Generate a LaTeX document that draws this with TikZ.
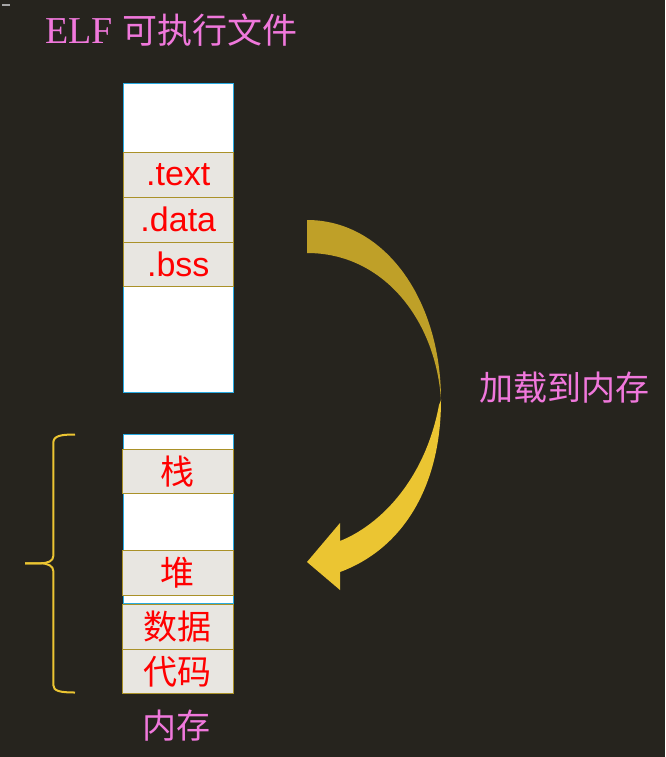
\documentclass[tikz,border=0pt]{standalone}
\usepackage{fontspec}
\setmainfont{Liberation Sans}
\newfontfamily\cjk{Noto Sans CJK SC}
\newfontfamily\ttlserif{Liberation Serif}
\definecolor{bg}{RGB}{38,36,30}
\definecolor{pinkt}{RGB}{240,120,220}
\definecolor{segfill}{RGB}{232,230,225}
\definecolor{segline}{RGB}{170,145,40}
\definecolor{memline}{RGB}{40,170,225}
\definecolor{ardark}{RGB}{191,160,40}
\definecolor{arlight}{RGB}{235,197,50}
\definecolor{redt}{RGB}{255,0,0}
\begin{document}
\begin{tikzpicture}[x=1pt,y=-1pt,
  mem/.style={draw=memline,fill=white,line width=1.2pt,minimum width=110pt,inner sep=0pt},
  seg/.style={draw=segline,fill=segfill,line width=1pt,text=redt,inner sep=0pt,minimum width=110pt},
  latseg/.style={seg,font=\fontsize{34}{38}\selectfont},
  cjkseg/.style={seg,font=\cjk\fontsize{34}{38}\selectfont},
  pinklabel/.style={text=pinkt,inner sep=0pt,font=\cjk\fontsize{34}{38}\selectfont}]
\useasboundingbox (0,0) rectangle (665,757);
\fill[bg] (0,0) rectangle (665,757);
\fill[gray!70] (2,4) rectangle (10,6);
% title
\node[text=pinkt,inner sep=0pt,anchor=base west] (title) at (45,44)
  {\fontsize{38}{42}\selectfont\ttlserif ELF \cjk\fontsize{35}{40}\selectfont 可执行文件};
% ELF file
\node[mem,minimum height=309pt] (elf) at (178.3,237.8) {};
\node[latseg,minimum height=45pt] (text) at (178.3,174.8) {\raisebox{-1.5pt}{.text}};
\node[latseg,minimum height=45pt] (data) at (178.3,219.8) {\raisebox{-1.5pt}{.data}};
\node[latseg,minimum height=44pt] (bss) at (178.3,264.3) {\raisebox{-1.5pt}{.bss}};
% memory
\node[mem,minimum height=169.2pt] (mem) at (178.3,518.9) {};
\node[cjkseg,minimum width=111pt,minimum height=44pt] (stack) at (177.8,471.3) {栈};
\node[cjkseg,minimum width=111pt,minimum height=45pt] (heap) at (177.8,572.8) {堆};
\node[cjkseg,minimum width=111pt,minimum height=45pt] (dseg) at (177.8,626.8) {数据};
\node[cjkseg,minimum width=111pt,minimum height=44pt] (cseg) at (177.8,671.3) {代码};
\node[pinklabel] (memlabel) at (176,726) {内存};
% brace
\draw[arlight,line width=2pt]
  (75,434.5) .. controls (60,434.5) and (53.3,436) .. (53.3,443) -- (53.3,556)
  .. controls (53.3,561) and (48,563.3) .. (40,563.3) -- (25,563.3);
\draw[arlight,line width=2pt]
  (25,563.3) -- (40,563.3) .. controls (48,563.3) and (53.3,566) .. (53.3,571)
  -- (53.3,685) .. controls (53.3,691) and (60,692.5) .. (75,692.5);
% curved arrow
\fill[ardark] (307,220) .. controls (385,220) and (441,300) .. (441,400)
  .. controls (436,322) and (385,253) .. (307,253) -- cycle;
\fill[arlight] (441,400) .. controls (441,490) and (400,550) .. (340,572)
  -- (340,590) -- (307,562) -- (340,523) -- (340,541)
  .. controls (380,525) and (425,480) .. (439,405) -- cycle;
\node[pinklabel,anchor=west] (load) at (479,388) {加载到内存};
\end{tikzpicture}
\end{document}
